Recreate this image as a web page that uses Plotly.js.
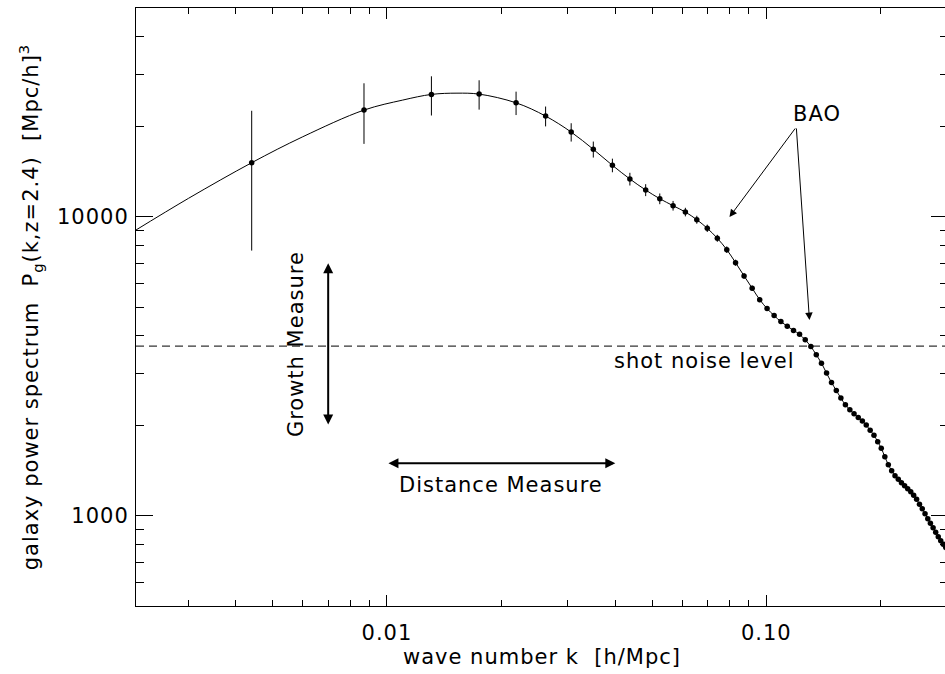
<!DOCTYPE html>
<html>
<head>
<meta charset="utf-8">
<script src="https://cdn.plot.ly/plotly-3.0.1.min.js"></script>
<style>
html, body { margin: 0; padding: 0; background: #fff; overflow: hidden; }
#plot { width: 950px; height: 674px; }
svg text { letter-spacing: 1px; }
</style>
</head>
<body>
<div id="plot"></div>
<script>
// ---- data ----
// binned galaxy power spectrum measurements
var dataK = [0.0044, 0.0087, 0.0131, 0.0175, 0.0219, 0.0262, 0.0306, 0.0350, 0.0393, 0.0437,
             0.0481, 0.0524, 0.0568, 0.0612, 0.0656, 0.0699, 0.0743, 0.0787, 0.0830, 0.0874,
             0.0918, 0.0961, 0.1005, 0.1049, 0.1093, 0.1136, 0.1180, 0.1224, 0.1267, 0.1311,
             0.1355, 0.1398, 0.1442, 0.1486, 0.1530, 0.1573, 0.1617, 0.1661, 0.1704, 0.1748,
             0.1792, 0.1835, 0.1879, 0.1923, 0.1967, 0.2010, 0.2054, 0.2098, 0.2141, 0.2185,
             0.2229, 0.2272, 0.2316, 0.2360, 0.2404, 0.2447, 0.2491, 0.2535, 0.2578, 0.2622,
             0.2666, 0.2709, 0.2753, 0.2797, 0.2841, 0.2884, 0.2928, 0.2972];
var dataP = [15190, 22780, 25700, 25760, 24090, 21750, 19230, 16840, 14890, 13400,
             12310, 11510, 10910, 10390, 9795, 9168, 8489, 7776, 7036, 6352,
             5779, 5292, 4938, 4679, 4469, 4313, 4176, 4050, 3882, 3687,
             3459, 3245, 3005, 2795, 2628, 2479, 2355, 2266, 2197, 2136,
             2077, 2014, 1935, 1862, 1772, 1685, 1579, 1484, 1417, 1363,
             1327, 1292, 1262, 1234, 1206, 1173, 1138, 1095, 1058, 1018,
             979, 946, 914, 883, 853, 827, 805, 784];
var dataErr = [7470, 5220, 3850, 2900, 2165, 1660, 1355, 1035, 780, 655,
               565, 475, 405, 343, 300, 260, 228, 198, 163, 137,
               115, 100, 88, 80, 72, 66, 60, 55, 50, 46,
               42, 38, 34, 31, 28, 26, 24, 22, 21, 20,
               19, 18, 17, 16, 15, 14, 13, 13, 12, 12,
               11, 11, 10, 10, 10, 9, 9, 9, 8, 8,
               8, 8, 7, 7, 7, 7, 6, 6];
// extra readings of the model curve between the sparse low-k bins
var curveK = [0.00215, 0.003, 0.006, 0.011, 0.0153];
var curveP = [8950, 11550, 18550, 24600, 25950];
// shot noise level
var shotNoise = 3700;
// axis extent and ticks
var kRange = [0.00218, 0.3014];
var pRange = [500, 50000];
var xTickVals = [0.01, 0.1];
var xTickText = ['0.01', '0.10'];
var xMinorVals = [0.003, 0.004, 0.005, 0.006, 0.007, 0.008, 0.009,
                  0.02, 0.03, 0.04, 0.05, 0.06, 0.07, 0.08, 0.09, 0.2, 0.3];
var yTickVals = [1000, 10000];
var yTickText = ['1000', '10000'];
var yMinorVals = [600, 700, 800, 900, 2000, 3000, 4000, 5000, 6000, 7000, 8000, 9000,
                  20000, 30000, 40000];
// annotation anchors (data values)
var growthArrow = {k: 0.007, pLow: 2000, pHigh: 7000};
var distArrow = {p: 1500, kLow: 0.01, kHigh: 0.04};
var baoTail = {k: 0.12, p: 20000};
var baoHeads = [{k: 0.08, p: 10000}, {k: 0.130, p: 4520}];

// ---- build ----
var L = Math.log10;
var pts = [];
for (var i = 0; i < curveK.length; i++) pts.push([curveK[i], curveP[i]]);
for (var j = 0; j < dataK.length; j++) pts.push([dataK[j], dataP[j]]);
pts.sort(function (a, b) { return a[0] - b[0]; });
var lineK = pts.map(function (p) { return p[0]; });
var lineP = pts.map(function (p) { return p[1]; });

var FONT = '"DejaVu Sans", sans-serif';
var FS = 21;

var traces = [
  {
    x: lineK, y: lineP, type: 'scatter', mode: 'lines',
    line: {color: '#000', width: 1, shape: 'spline', smoothing: 1},
    hoverinfo: 'skip', showlegend: false
  },
  {
    x: dataK, y: dataP, type: 'scatter', mode: 'markers',
    marker: {color: '#000', size: 5.5, symbol: 'circle'},
    error_y: {type: 'data', array: dataErr, visible: true, thickness: 1, width: 0, color: '#000'},
    showlegend: false
  },
  {
    x: kRange, y: [shotNoise, shotNoise], type: 'scatter', mode: 'lines',
    line: {color: '#000', width: 1, dash: '8px,5px'},
    hoverinfo: 'skip', showlegend: false
  }
];

var arrowCommon = {
  xref: 'x', yref: 'y', axref: 'x', ayref: 'y', text: '',
  showarrow: true, arrowcolor: '#000', standoff: 0, startstandoff: 0
};
function mk(o) { var r = {}; for (var a in arrowCommon) r[a] = arrowCommon[a]; for (var b in o) r[b] = o[b]; return r; }

var annotations = [
  mk({x: L(growthArrow.k), y: L(growthArrow.pHigh), ax: L(growthArrow.k), ay: L(growthArrow.pLow),
      arrowside: 'end+start', arrowhead: 2, startarrowhead: 2, arrowwidth: 2, arrowsize: 1, startarrowsize: 1}),
  mk({x: L(distArrow.kHigh), y: L(distArrow.p), ax: L(distArrow.kLow), ay: L(distArrow.p),
      arrowside: 'end+start', arrowhead: 2, startarrowhead: 2, arrowwidth: 2, arrowsize: 1, startarrowsize: 1}),
  mk({x: L(baoHeads[0].k), y: L(baoHeads[0].p), ax: L(baoTail.k), ay: L(baoTail.p),
      arrowhead: 2, arrowwidth: 1, arrowsize: 1.5}),
  mk({x: L(baoHeads[1].k), y: L(baoHeads[1].p), ax: L(baoTail.k), ay: L(baoTail.p),
      arrowhead: 2, arrowwidth: 1, arrowsize: 1.5}),
  {xref: 'x', yref: 'y', x: L(0.1363), y: L(22080), text: 'BAO', showarrow: false,
   xanchor: 'center', yanchor: 'middle', font: {size: FS, color: '#000', family: FONT}},
  {xref: 'x', yref: 'y', x: L(0.0684), y: L(3290), text: 'shot noise level', showarrow: false,
   xanchor: 'center', yanchor: 'middle', font: {size: FS, color: '#000', family: FONT}},
  {xref: 'x', yref: 'y', x: L(0.02), y: L(1272), text: 'Distance Measure', showarrow: false,
   xanchor: 'center', yanchor: 'middle', font: {size: FS, color: '#000', family: FONT}},
  {xref: 'x', yref: 'y', x: L(0.005767), y: L(3765), text: 'Growth Measure', showarrow: false,
   textangle: -90, xanchor: 'center', yanchor: 'middle', font: {size: FS, color: '#000', family: FONT}}
];

var axisCommon = {
  type: 'log', showgrid: false, zeroline: false, showline: true, linecolor: '#000', linewidth: 1,
  mirror: 'ticks', ticks: 'inside', tickcolor: '#000', tickwidth: 1, tickmode: 'array',
  tickfont: {size: FS, color: '#000', family: FONT}
};

var layout = {
  width: 950, height: 674,
  margin: {l: 136, r: 2, t: 8, b: 68, pad: 0},
  paper_bgcolor: '#fff', plot_bgcolor: '#fff',
  font: {family: FONT, color: '#000', size: FS},
  showlegend: false,
  xaxis: Object.assign({}, axisCommon, {
    range: [L(kRange[0]), L(kRange[1])],
    tickvals: xTickVals, ticktext: xTickText, ticklen: 11, ticklabelstandoff: 8,
    minor: {tickmode: 'array', tickvals: xMinorVals, ticks: 'inside', ticklen: 6, tickwidth: 1, tickcolor: '#000', showgrid: false},
    title: {text: 'wave number k  [h/Mpc]', font: {size: FS, color: '#000', family: FONT}, standoff: 4}
  }),
  yaxis: Object.assign({}, axisCommon, {
    range: [L(pRange[0]), L(pRange[1])],
    tickvals: yTickVals, ticktext: yTickText, ticklen: 17, ticklabelstandoff: 2,
    minor: {tickmode: 'array', tickvals: yMinorVals, ticks: 'inside', ticklen: 8, tickwidth: 1, tickcolor: '#000', showgrid: false},
    title: {text: 'galaxy power spectrum  P<sub>g</sub>(k,z=2.4)  [Mpc/h]<sup>3</sup>', font: {size: FS, color: '#000', family: FONT}, standoff: 12}
  }),
  annotations: annotations
};

Plotly.newPlot('plot', traces, layout, {staticPlot: true, displayModeBar: false});
</script>
</body>
</html>
